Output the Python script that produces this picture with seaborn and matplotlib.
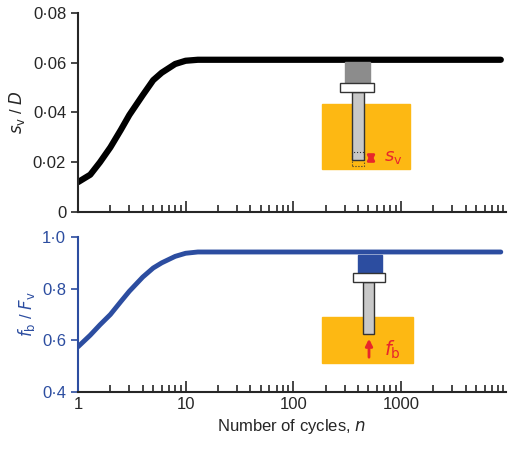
import numpy as np
import matplotlib
matplotlib.use("Agg")
import matplotlib.pyplot as plt
import seaborn as sns
from matplotlib.patches import Rectangle, FancyArrowPatch
from matplotlib.ticker import FixedLocator, FuncFormatter, LogLocator, NullFormatter

sns.set_style("ticks")
plt.rcParams["font.family"] = ["Liberation Sans", "DejaVu Sans"]

# settlement curve
n_top = [1, 1.3, 1.6, 2, 2.5, 3, 4, 5, 6, 8, 10, 13, 20, 50, 100, 1000, 8500]
sv_D = [0.012, 0.015, 0.020, 0.026, 0.033, 0.039, 0.047, 0.053, 0.056, 0.0595, 0.0608, 0.0612,
        0.0612, 0.0612, 0.0612, 0.0612, 0.0612]
# base load ratio curve
n_bot = [1, 1.3, 1.6, 2, 2.5, 3, 4, 5, 6, 8, 10, 13, 20, 50, 100, 1000, 8500]
fb_Fv = [0.575, 0.62, 0.66, 0.70, 0.75, 0.79, 0.845, 0.88, 0.90, 0.925, 0.937, 0.942,
         0.942, 0.942, 0.942, 0.942, 0.942]

W, H = 520, 453
BLUE = "#2c4da0"
SAND = "#fdb813"
RED = "#e8262b"


def dot_fmt(v, _):
    s = f"{v:.2f}" if v < 0.1 and v != 0 else (f"{v:.1f}" if v != 0 else "0")
    return s.replace(".", "\u00b7")


fig = plt.figure(figsize=(W / 100, H / 100), dpi=100)
ax1 = fig.add_axes([78 / W, 1 - 212 / H, 428 / W, 199 / H])
ax2 = fig.add_axes([78 / W, 1 - 392 / H, 428 / W, 155 / H])

sns.lineplot(x=n_top, y=sv_D, ax=ax1, color="black", lw=4.5)
sns.lineplot(x=n_bot, y=fb_Fv, ax=ax2, color=BLUE, lw=3.5)

for ax in (ax1, ax2):
    ax.set_xscale("log")
    ax.set_xlim(1, 9500)
    sns.despine(ax=ax)
    ax.xaxis.set_major_locator(LogLocator(base=10, numticks=10))
    ax.xaxis.set_minor_locator(LogLocator(base=10, subs=np.arange(2, 10), numticks=10))
    ax.tick_params(axis="x", which="major", direction="in", length=8, width=1.2)
    ax.tick_params(axis="x", which="minor", direction="in", length=5, width=1.2)
    ax.tick_params(axis="y", direction="out", length=5, width=1.2, labelsize=12)
    ax.spines["left"].set_linewidth(1.5)
    ax.spines["bottom"].set_linewidth(1.5)

ax1.set_ylim(0, 0.08)
ax1.yaxis.set_major_locator(FixedLocator([0, 0.02, 0.04, 0.06, 0.08]))
ax1.yaxis.set_major_formatter(FuncFormatter(dot_fmt))
ax1.xaxis.set_major_formatter(NullFormatter())
ax1.set_ylabel("$s_\\mathrm{v}$ / $D$", fontsize=12)

ax2.set_ylim(0.4, 1.0)
ax2.yaxis.set_major_locator(FixedLocator([0.4, 0.6, 0.8, 1.0]))
ax2.yaxis.set_major_formatter(FuncFormatter(dot_fmt))
ax2.xaxis.set_major_formatter(FuncFormatter(lambda v, _: f"{v:g}"))
ax2.tick_params(axis="x", labelsize=12)
ax2.spines["left"].set_color(BLUE)
ax2.tick_params(axis="y", colors=BLUE)
ax2.set_ylabel("$f_\\mathrm{b}$ / $F_\\mathrm{v}$", fontsize=12, color=BLUE)
ax2.set_xlabel("Number of cycles, $n$", fontsize=12)


def box(x0, y0, x1, y1, **kw):
    fig.patches.append(Rectangle((x0 / W, 1 - y1 / H), (x1 - x0) / W, (y1 - y0) / H,
                                 transform=fig.transFigure, **kw))


def arrow(x0, y0, x1, y1, style):
    fig.patches.append(FancyArrowPatch((x0 / W, 1 - y0 / H), (x1 / W, 1 - y1 / H),
                                       transform=fig.transFigure, arrowstyle=style,
                                       color=RED, lw=2, mutation_scale=10, zorder=10))


# top inset: pile settling in sand
box(322, 104, 410, 169, color=SAND, zorder=5)
box(352, 92, 364, 160, facecolor="#c8c8c8", edgecolor="#333333", lw=1, zorder=6)
box(352, 152, 364, 166, facecolor="none", edgecolor="#333333", lw=0.8, ls=":", zorder=6)
box(345, 62, 370, 83, color="#8c8c8c", zorder=6)
box(340, 83, 374, 92, facecolor="white", edgecolor="#333333", lw=1, zorder=7)
arrow(371, 150, 371, 166, "<|-|>")
fig.text(384 / W, 1 - 157 / H, "$s_\\mathrm{v}$", color=RED, fontsize=13, va="center", zorder=10)

# bottom inset: base reaction
box(322, 317, 413, 363, color=SAND, zorder=5)
box(363, 282, 374, 334, facecolor="#c8c8c8", edgecolor="#333333", lw=1, zorder=6)
box(358, 255, 382, 273, color=BLUE, zorder=6)
box(353, 273, 385, 282, facecolor="white", edgecolor="#333333", lw=1, zorder=7)
arrow(369, 360, 369, 336, "-|>")
fig.text(384 / W, 1 - 350 / H, "$f_\\mathrm{b}$", color=RED, fontsize=14, va="center", zorder=10)

fig.savefig("out.png", dpi=100)
